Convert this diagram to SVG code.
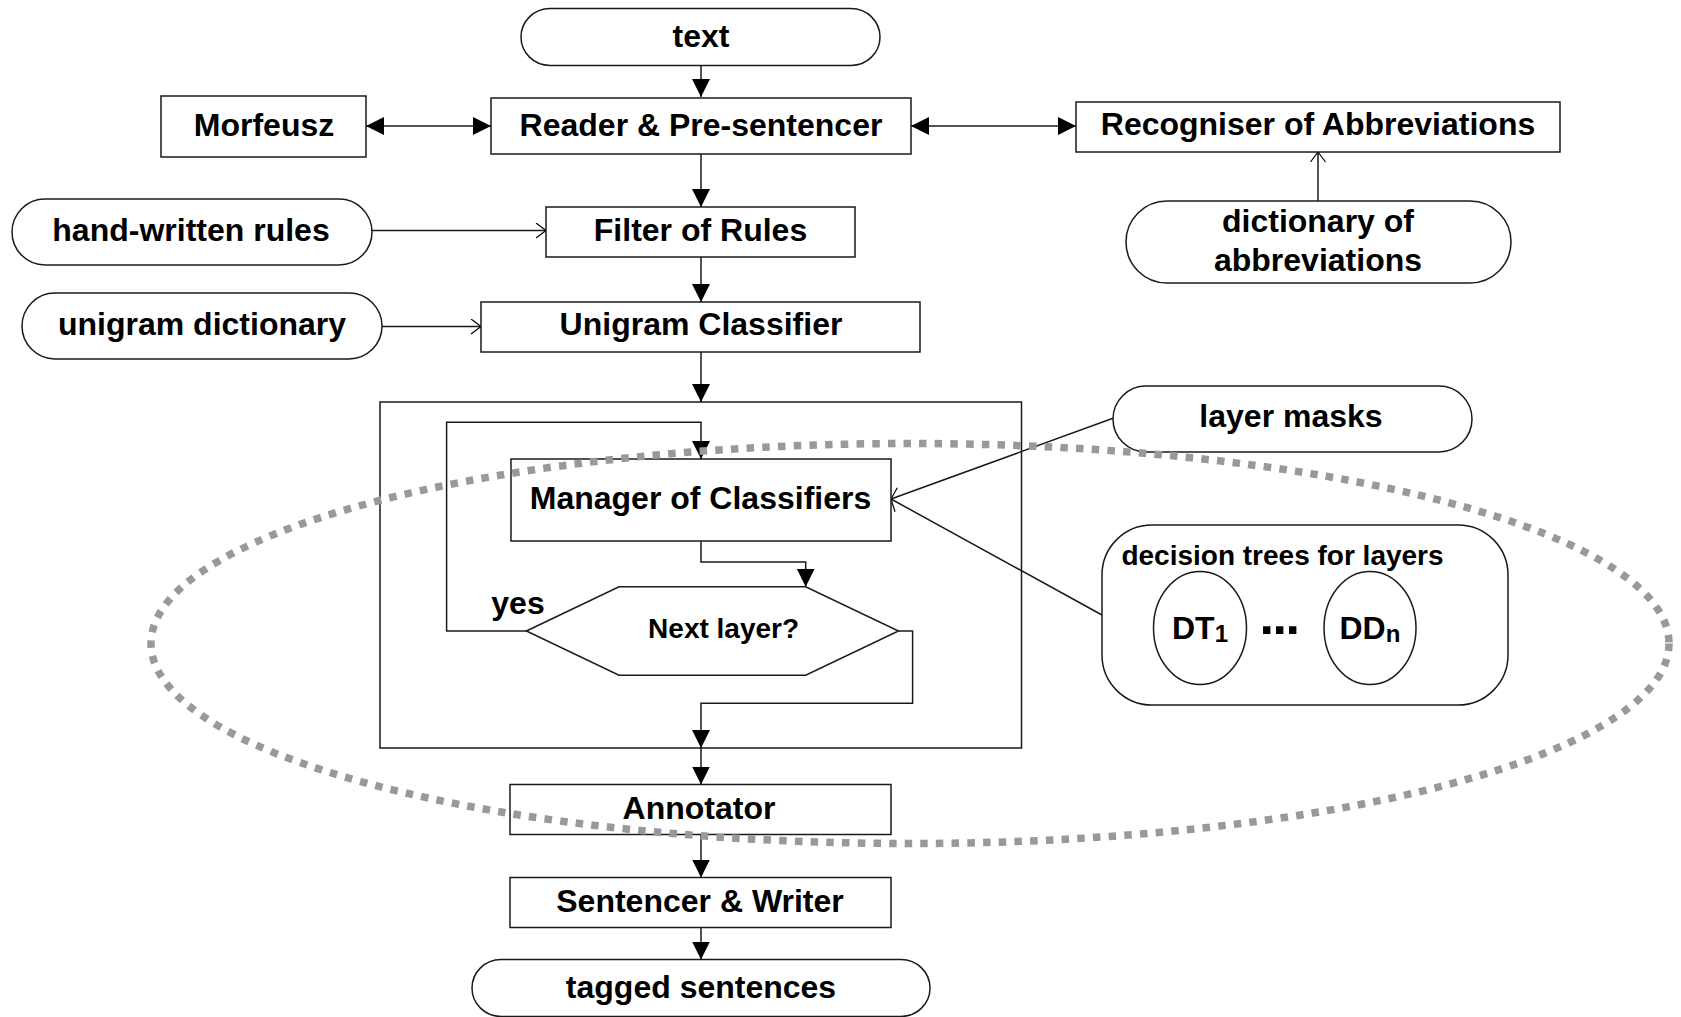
<svg xmlns="http://www.w3.org/2000/svg" width="1681" height="1017" viewBox="0 0 1681 1017">
<style>
.box{fill:#fff;stroke:#1a1a1a;stroke-width:1.5}
.frame{fill:none;stroke:#1a1a1a;stroke-width:1.5}
.ln{fill:none;stroke:#1a1a1a;stroke-width:1.5}
.t{font-family:"Liberation Sans",Arial,sans-serif;font-weight:bold;font-size:32px;text-anchor:middle;fill:#000}
.st{text-anchor:start}
.s{font-size:28px}
.sub{font-size:24px}
.dash{fill:none;stroke:#999;stroke-width:7.5;stroke-dasharray:7.5 8.2}
</style>
<defs>
<marker id="ah" markerUnits="userSpaceOnUse" markerWidth="18" markerHeight="18" viewBox="0 0 18 18" refX="18" refY="9" orient="auto-start-reverse">
<path d="M0,0 L18,9 L0,18 Z" fill="#000"/>
</marker>
<marker id="oa" markerUnits="userSpaceOnUse" markerWidth="12" markerHeight="16" viewBox="0 0 12 16" refX="11" refY="8" orient="auto">
<path d="M1,0.5 L11,8 L1,15.5" fill="none" stroke="#000" stroke-width="1.2"/>
</marker>
</defs>
<rect width="1681" height="1017" fill="#fff"/>

<g id="loop-frame"><rect class="frame" x="380" y="402" width="641.5" height="346"/></g>

<g id="connectors">
<path class="ln" d="M701,66 V97" marker-end="url(#ah)"/>
<path class="ln" d="M366,126 H491" marker-start="url(#ah)" marker-end="url(#ah)"/>
<path class="ln" d="M911,126 H1076" marker-start="url(#ah)" marker-end="url(#ah)"/>
<path class="ln" d="M701,154 V207" marker-end="url(#ah)"/>
<path class="ln" d="M372,230.5 H546" marker-end="url(#oa)"/>
<path class="ln" d="M382,326.5 H481" marker-end="url(#oa)"/>
<path class="ln" d="M701,257 V302" marker-end="url(#ah)"/>
<path class="ln" d="M1318,201 V152" marker-end="url(#oa)"/>
<path class="ln" d="M701,352 V402" marker-end="url(#ah)"/>
<path class="ln" d="M526.4,631 H446.6 V422.3 H701 V459" marker-end="url(#ah)"/>
<path class="ln" d="M701,541 V562 H805.7 V586.7" marker-end="url(#ah)"/>
<path class="ln" d="M898.5,631 H912.6 V703.3 H701 V748" marker-end="url(#ah)"/>
<path class="ln" d="M701,748 V784.5" marker-end="url(#ah)"/>
<path class="ln" d="M701,834.5 V877.5" marker-end="url(#ah)"/>
<path class="ln" d="M701,927.5 V959.5" marker-end="url(#ah)"/>
<path class="ln" d="M1113,418.3 L891,499"/>
<path class="ln" d="M1102,615 L891,499"/>
<path d="M897.3,487.7 L891,499 L895,511.7" fill="none" stroke="#000" stroke-width="1.2"/>
</g>

<g id="text-in"><rect class="box" x="521" y="8.5" width="359" height="57" rx="29"/><text class="t" x="701" y="47">text</text></g>
<g id="morfeusz"><rect class="box" x="161" y="96" width="205" height="61"/><text class="t" x="264" y="136">Morfeusz</text></g>
<g id="reader"><rect class="box" x="491" y="98" width="420" height="56"/><text class="t" x="701" y="136">Reader &amp; Pre-sentencer</text></g>
<g id="recogniser"><rect class="box" x="1076" y="102" width="484" height="50"/><text class="t" x="1318" y="135">Recogniser of Abbreviations</text></g>
<g id="hand-rules"><rect class="box" x="12" y="199" width="360" height="66" rx="33"/><text class="t" x="191" y="241">hand-written rules</text></g>
<g id="filter"><rect class="box" x="546" y="207" width="309" height="50"/><text class="t" x="700.5" y="241">Filter of Rules</text></g>
<g id="dict-abbr"><rect class="box" x="1126" y="201" width="385" height="82" rx="41"/><text class="t" x="1318" y="231.5">dictionary of</text><text class="t" x="1318" y="270.5">abbreviations</text></g>
<g id="unigram-dict"><rect class="box" x="22" y="293" width="360" height="66" rx="33"/><text class="t" x="202" y="335">unigram dictionary</text></g>
<g id="unigram"><rect class="box" x="481" y="302" width="439" height="50"/><text class="t" x="701" y="335">Unigram Classifier</text></g>
<g id="manager"><rect class="box" x="511" y="459" width="380" height="82"/><text class="t" x="700.5" y="508.5">Manager of Classifiers</text></g>
<g id="next-layer"><polygon class="box" points="526.4,631 619,586.7 805.7,586.7 898.5,631 805.7,675.3 619,675.3"/><text class="t s" x="723.6" y="638">Next layer?</text></g>
<g id="yes-label"><text class="t" x="518" y="613.5">yes</text></g>
<g id="layer-masks"><rect class="box" x="1113" y="386" width="359" height="66" rx="33"/><text class="t" x="1291" y="427">layer masks</text></g>
<g id="decision-trees"><rect class="box" x="1102" y="525" width="406" height="180" rx="50"/><text class="t s" x="1282.5" y="565">decision trees for layers</text>
<ellipse class="box" cx="1200" cy="628" rx="46.5" ry="56.5"/><text class="t st" x="1172" y="639">DT<tspan class="sub" dy="3">1</tspan></text>
<text class="t st" x="1259.5" y="634" style="font-size:52px;letter-spacing:-1.5px">...</text>
<ellipse class="box" cx="1370" cy="628" rx="46" ry="56.5"/><text class="t st" x="1339.5" y="639">DD<tspan class="sub" dy="3">n</tspan></text></g>
<g id="annotator"><rect class="box" x="510" y="784.5" width="381" height="50"/><text class="t" x="699" y="818.5">Annotator</text></g>
<g id="sentencer"><rect class="box" x="510" y="877.5" width="381" height="50"/><text class="t" x="700" y="911.5">Sentencer &amp; Writer</text></g>
<g id="tagged"><rect class="box" x="472" y="959.5" width="458" height="57" rx="29"/><text class="t" x="701" y="998">tagged sentences</text></g>

<g id="scope-ellipse"><ellipse class="dash" cx="910" cy="643.5" rx="759" ry="200"/></g>
</svg>
